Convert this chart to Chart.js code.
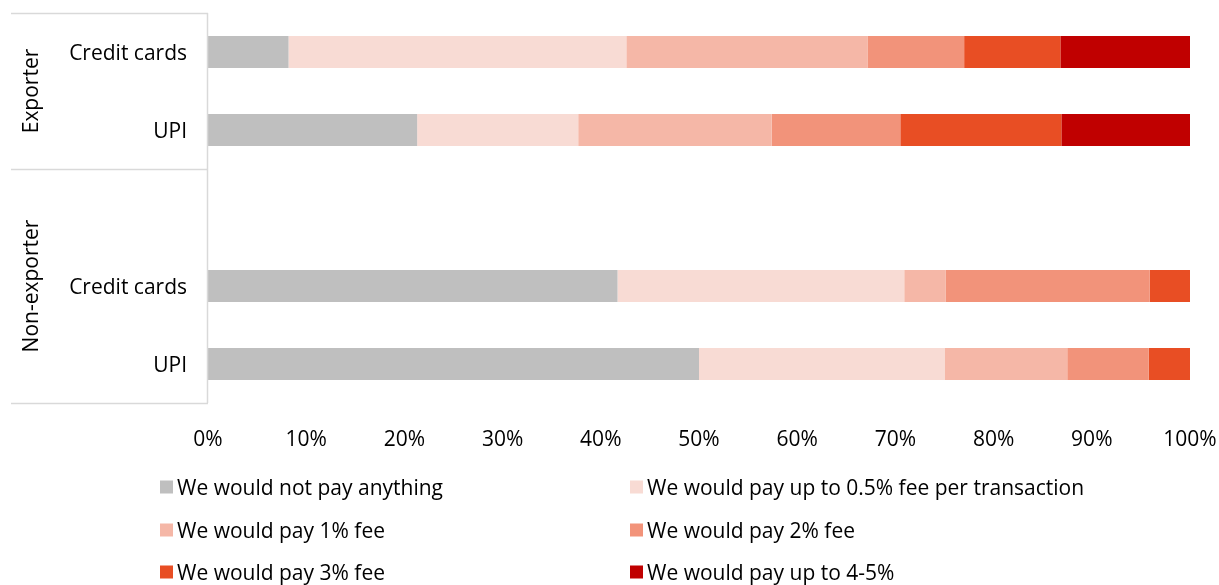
<!DOCTYPE html>
<html>
<head>
<meta charset="utf-8">
<script src="https://cdn.jsdelivr.net/npm/chart.js@4/dist/chart.umd.min.js"></script>
<style>
  html, body { margin: 0; padding: 0; background: #fff; }
  #wrap { width: 1219px; height: 585px; position: relative; }
</style>
</head>
<body>
<div id="wrap"><canvas id="fees"></canvas></div>
<script>
// rows: exporter (credit cards, UPI), blank spacer, non-exporter (credit cards, UPI)
const rowLabels = ['Credit cards', 'UPI', '', 'Credit cards', 'UPI'];
const groups = [
  { name: 'Exporter', from: 0, to: 1 },
  { name: 'Non-exporter', from: 2, to: 4 }
];
const seriesNames = [
  'We would not pay anything',
  'We would pay up to 0.5% fee per transaction',
  'We would pay 1% fee',
  'We would pay 2% fee',
  'We would pay 3% fee',
  'We would pay up to 4-5%'
];
const payNothing = [8.2, 21.3, null, 41.7, 50.0];
const payHalf    = [34.4, 16.4, null, 29.2, 25.0];
const payOne     = [24.6, 19.7, null, 4.2, 12.5];
const payTwo     = [9.8, 13.1, null, 20.8, 8.3];
const payThree   = [9.8, 16.4, null, 4.1, 4.2];
const payFour    = [13.2, 13.1, null, 0, 0];
const xTicks = [0, 10, 20, 30, 40, 50, 60, 70, 80, 90, 100];

const colors = ['#BFBFBF', '#F8DBD4', '#F5B7A7', '#F2937A', '#E84E24', '#C00000'];
const FONT = '"Open Sans", Lato, sans-serif';
const FONT_SIZE = 21;
const lineColor = '#D9D9D9';

const seriesData = [payNothing, payHalf, payOne, payTwo, payThree, payFour];

// group labels, bracket lines and the two-column legend
const extras = {
  id: 'extras',
  afterDraw(chart) {
    const ctx = chart.ctx;
    const y = chart.scales.y;
    const area = chart.chartArea;
    const step = y.getPixelForValue(1) - y.getPixelForValue(0);
    ctx.save();
    ctx.strokeStyle = lineColor;
    ctx.lineWidth = 1.5;
    ctx.beginPath();
    ctx.moveTo(area.left - 0.5, area.top);
    ctx.lineTo(area.left - 0.5, area.bottom);
    const edges = [area.top];
    groups.forEach(g => edges.push(y.getPixelForValue(g.to) + step / 2));
    edges.forEach(py => {
      ctx.moveTo(11, Math.round(py) + 0.5);
      ctx.lineTo(area.left, Math.round(py) + 0.5);
    });
    ctx.stroke();

    ctx.fillStyle = '#000';
    ctx.font = FONT_SIZE + 'px ' + FONT;
    ctx.textAlign = 'center';
    ctx.textBaseline = 'middle';
    groups.forEach(g => {
      const top = y.getPixelForValue(g.from) - step / 2;
      const bottom = y.getPixelForValue(g.to) + step / 2;
      ctx.save();
      ctx.translate(32, (top + bottom) / 2);
      ctx.rotate(-Math.PI / 2);
      ctx.fillText(g.name, 0, 0);
      ctx.restore();
    });

    // legend
    const colX = [160, 630];
    const rowY = [487, 530, 572];
    ctx.textAlign = 'left';
    chart.data.datasets.forEach((ds, i) => {
      const x = colX[i % 2];
      const cy = rowY[Math.floor(i / 2)];
      ctx.fillStyle = ds.backgroundColor;
      ctx.fillRect(x, cy - 6.5, 13, 13);
      ctx.fillStyle = '#000';
      ctx.fillText(ds.label, x + 17, cy + 2);
    });
    ctx.restore();
  }
};

new Chart(document.getElementById('fees'), {
  type: 'bar',
  data: {
    labels: rowLabels,
    datasets: seriesNames.map((name, i) => ({
      label: name,
      data: seriesData[i],
      backgroundColor: colors[i],
      borderWidth: 0,
      categoryPercentage: 1,
      barPercentage: 0.41
    }))
  },
  options: {
    indexAxis: 'y',
    responsive: true,
    maintainAspectRatio: false,
    animation: false,
    layout: { padding: { top: 13, right: 29, left: 0, bottom: 0 } },
    plugins: {
      legend: { display: false },
      tooltip: { enabled: false }
    },
    scales: {
      x: {
        stacked: true,
        min: 0,
        max: 100,
        afterBuildTicks(scale) { scale.ticks = xTicks.map(v => ({ value: v })); },
        afterFit(scale) {
          scale.height = 182;
          scale.paddingLeft = 0;
          scale.paddingRight = 0;
        },
        grid: { display: false, drawTicks: false },
        border: { display: false },
        ticks: {
          color: '#000',
          font: { family: FONT, size: FONT_SIZE },
          padding: 24,
          maxRotation: 0,
          callback: v => v + '%'
        }
      },
      y: {
        stacked: true,
        afterFit(scale) {
          scale.width = 208;
          scale.paddingTop = 0;
          scale.paddingBottom = 0;
        },
        grid: { display: false, drawTicks: false },
        border: { display: false },
        ticks: {
          color: '#000',
          font: { family: FONT, size: FONT_SIZE },
          padding: 21,
          labelOffset: 2
        }
      }
    }
  },
  plugins: [extras]
});
</script>
</body>
</html>
